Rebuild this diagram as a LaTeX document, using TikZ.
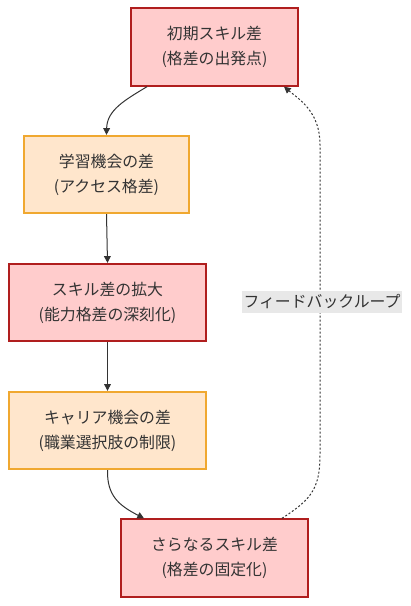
\documentclass[tikz,border=0pt]{standalone}
\usepackage{fontspec}
\setmainfont{Noto Sans CJK JP}
\usetikzlibrary{arrows.meta,calc}
\definecolor{redfill}{HTML}{FFCCCC}
\definecolor{redline}{HTML}{B01E1E}
\definecolor{orfill}{HTML}{FFE6CC}
\definecolor{orline}{HTML}{F0A830}
\definecolor{txt}{HTML}{333333}
\definecolor{lblbg}{HTML}{E8E8E8}
\begin{document}
\begin{tikzpicture}[x=0.75pt,y=-0.75pt,
  box/.style={rectangle,line width=1.5pt,align=center,inner sep=0pt,text=txt,
    font=\fontsize{11.9}{18.75}\selectfont,minimum height=58pt},
  redbox/.style={box,draw=redline,fill=redfill},
  orbox/.style={box,draw=orline,fill=orfill},
  arr/.style={draw=txt,line width=0.75pt,-{Triangle[length=5pt,width=5pt]}},
  fb/.style={arr,dash pattern=on 1.5pt off 1.5pt},
  lbl/.style={fill=lblbg,text=txt,inner xsep=1pt,inner ysep=3pt,font=\fontsize{11.9}{14}\selectfont}]
\useasboundingbox (0,0) rectangle (410,606);
\node[redbox,minimum width=125.25pt] (n1) at (214.5,47) {初期スキル差\\(格差の出発点)};
\node[orbox,minimum width=123.75pt] (n2) at (106.5,174.5) {学習機会の差\\(アクセス格差)};
\node[redbox,minimum width=147.75pt] (n3) at (107.5,302.5) {スキル差の拡大\\(能力格差の深刻化)};
\node[orbox,minimum width=147.75pt] (n4) at (107.5,430.5) {キャリア機会の差\\(職業選択肢の制限)};
\node[redbox,minimum width=140.25pt] (n5) at (214.5,558) {さらなるスキル差\\(格差の固定化)};
\coordinate (a1) at ($(n1.south west)+(17,0)$);
\coordinate (a5) at ($(n5.north west)+(24,0)$);
\coordinate (f5) at ($(n5.north west)+(162,0)$);
\coordinate (f1) at ($(n1.south west)+(154,0)$);
\draw[arr] (a1) .. controls (125,100) and (107,110) .. (n2.north);
\draw[arr] (n2.south) -- (n3.north);
\draw[arr] (n3.south) -- (n4.north);
\draw[arr] (n4.south) .. controls (107,495) and (118,505) .. (a5);
\draw[fb] (f5) .. controls (310,500) and (320,490) .. (320,455) -- (320,145)
  .. controls (320,112) and (300,100) .. (f1);
\node[lbl] (lb) at (322,302) {フィードバックループ};
\end{tikzpicture}
\end{document}
